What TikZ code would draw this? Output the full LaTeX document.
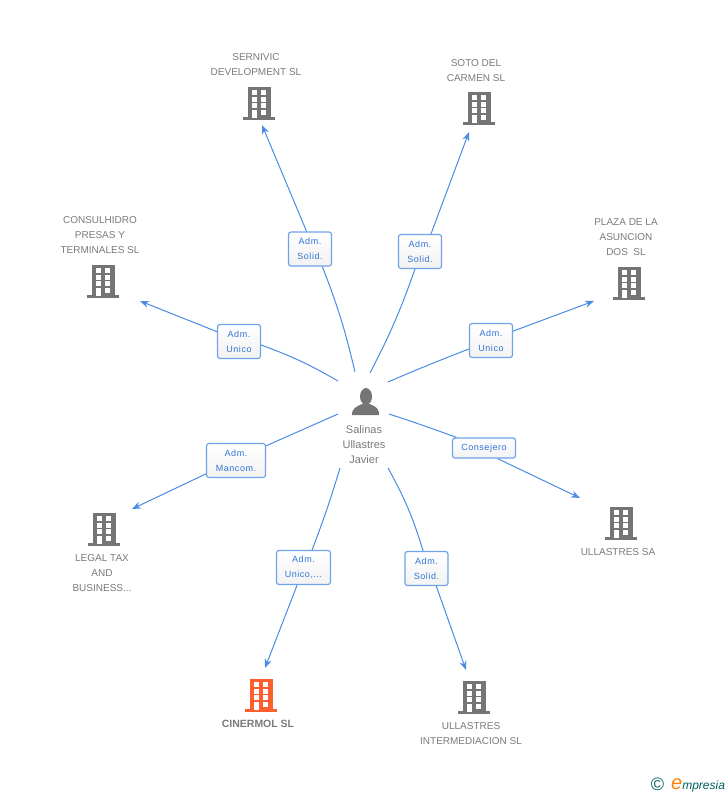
\documentclass[tikz,border=0pt]{standalone}
\usepackage{fontspec}
\setmainfont{Liberation Sans}
\newfontfamily\lblfont[LetterSpace=6]{Liberation Sans}
\usetikzlibrary{arrows.meta}
\definecolor{linkblue}{HTML}{4A8BE4}
\definecolor{boxblue}{HTML}{6FA3E8}
\definecolor{lbltext}{HTML}{2F74D6}
\definecolor{greytext}{HTML}{7A7A7A}
\definecolor{icongrey}{HTML}{757575}
\definecolor{iconred}{HTML}{FF5F2E}
\tikzset{
	firm/.style={text=greytext, font=\fontsize{10}{15}\selectfont, align=center, inner sep=0pt},
	role/.style={draw=boxblue, line width=1.2pt, rounded corners=2.5pt, top color=white, bottom color=black!5,
		text=lbltext, font=\lblfont\fontsize{9}{15}\selectfont, align=center, inner sep=0pt, minimum height=34pt},
	link/.style={draw=linkblue, line width=1pt},
	pics/office/.style={code={
		\fill[#1] (-11,-16.3) rectangle (11.5,15);
		\fill[#1] (-16,14.3) rectangle (16,17);
		\foreach \r in {0,1,2,3} {
			\fill[white] (2.3,-12.6+\r*6.5) rectangle (7.3,-8+\r*6.5);
			\ifnum\r<3 \fill[white] (-7.5,-12.6+\r*6.5) rectangle (-2.3,-8+\r*6.5); \fi
		}
		\fill[white] (-7.5,6.5) rectangle (-2.3,15);
	}}
}
\begin{document}
\begin{tikzpicture}[x=1pt, y=-1pt, line join=round, >={Stealth[length=9pt,width=7pt]}]
	\useasboundingbox (0,0) rectangle (728,795);
	% buildings
	\foreach \nm/\x/\y in {servi/259/103,soto/479/108,consul/103/281,plaza/629/283,
		sa/621/523,legal/104/529,inter/474/697}
	\pic (\nm) at (\x,\y) {office=icongrey};
	\pic (ciner) at (261,695) {office=iconred};
	% names
	\node[firm] (nservi) at (256,65) {SERNIVIC\\DEVELOPMENT SL};
	\node[firm] (nsoto) at (476,70.5) {SOTO DEL\\CARMEN SL};
	\node[firm] (nconsul) at (100,235.5) {CONSULHIDRO\\PRESAS Y\\TERMINALES SL};
	\node[firm] (nplaza) at (626,237.5) {PLAZA DE LA\\ASUNCION\\DOS\ \ SL};
	\node[firm] (nsa) at (618,552.5) {ULLASTRES SA};
	\node[firm] (nlegal) at (102,573.5) {LEGAL TAX\\AND\\BUSINESS...};
	\node[firm, font=\fontsize{10.5}{15}\selectfont\bfseries] (nciner) at (258,723.5) {CINERMOL SL};
	\node[firm] (ninter) at (471,734) {ULLASTRES\\INTERMEDIACION SL};
	\node[firm, font=\fontsize{11}{15}\selectfont] (nperson) at (364,444.5) {Salinas\\Ullastres\\Javier};
	% person
	\fill[icongrey] (366,396.5) ellipse (6 and 8.5);
	\fill[icongrey] (352,415) .. controls (352,408) and (356,407) .. (362,404)
		-- (370,404) .. controls (376,407) and (379,408) .. (379,415) -- cycle;
	% free ends of the links
	\foreach \nm/\x/\y in {s1/355/372,e1/262/125,s2/370/373,e2/469/132,s3/388/382,e3/594/301,
		s4/389/414,e4/580/498,s5/388/468,e5/466/670,s6/340/468,e6/265/668,
		s7/338/414,e7/132/509,s8/338/381,e8/140/301}
	\coordinate (\nm) at (\x,\y);
	% roles
	\node[role, minimum width=43pt] (r1) at (310,249) {Adm.\\Solid.};
	\node[role, minimum width=43pt] (r2) at (420,251.5) {Adm.\\Solid.};
	\node[role, minimum width=43pt] (r3) at (491,340.5) {Adm.\\Unico};
	\node[role, minimum width=63pt, minimum height=20pt] (r4) at (484,448) {Consejero};
	\node[role, minimum width=43pt] (r5) at (426.5,568.5) {Adm.\\Solid.};
	\node[role, minimum width=54pt] (r6) at (303.5,567.5) {Adm.\\Unico,...};
	\node[role, minimum width=59pt] (r7) at (236,460.5) {Adm.\\Mancom.};
	\node[role, minimum width=43pt] (r8) at (239,341.5) {Adm.\\Unico};
	% links
	\draw[link] (s1) to[bend right=4] (r1.-55);
	\draw[link] (s2) to[bend right=4] (r2.-106);
	\draw[link] (s3) to[bend left=1] (r3.201);
	\draw[link] (s4) to[bend left=1] (r4.159);
	\draw[link] (s5) to[bend left=6] (r5.101);
	\draw[link] (s6) to[bend left=2] (r6.64);
	\draw[link] (s7) -- (r7.26);
	\draw[link] (s8) to[bend right=5] (r8.-9);
	\foreach \i/\a in {1/101,2/58,3/23,4/-38,5/-61,6/-110,7/204,8/156}
	\draw[link,->] (r\i.\a) -- (e\i);
	% logo
	\node[inner sep=0pt, text=teal!75!black, font=\fontsize{18}{18}\selectfont] (copyr) at (657.5,784) {©};
	\node[inner sep=0pt, anchor=west, text=teal!75!black, font=\fontsize{12}{12}\selectfont\itshape] (logo) at (671,785.5)
		{\textcolor{orange}{\fontsize{20}{20}\selectfont e}mpresia};
\end{tikzpicture}
\end{document}
